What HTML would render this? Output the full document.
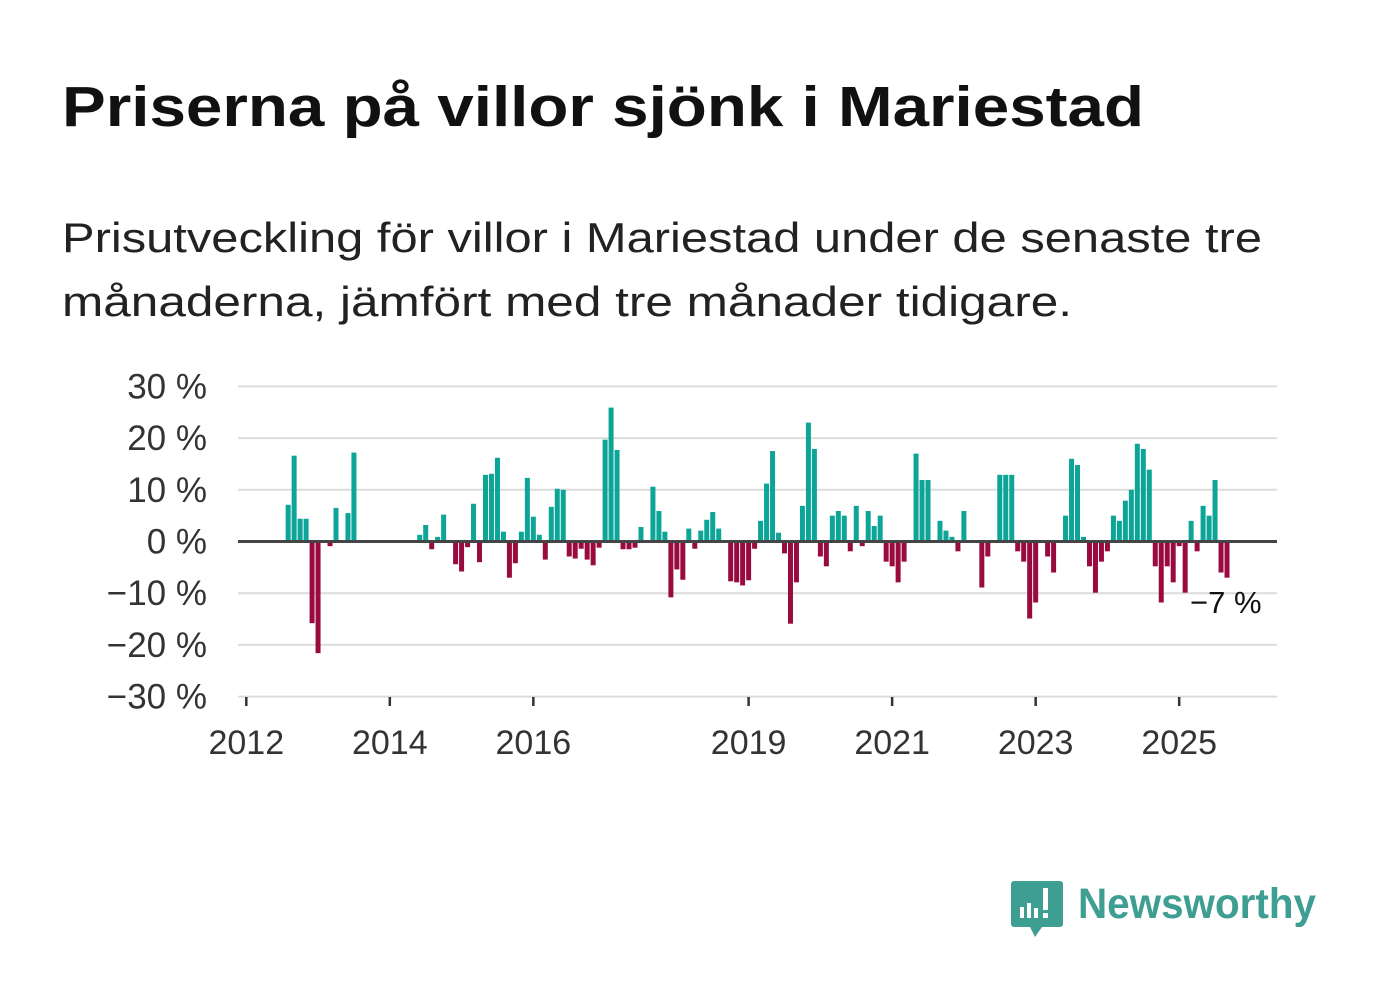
<!DOCTYPE html>
<html><head><meta charset="utf-8"><style>
html,body{margin:0;padding:0;background:#fff;}
svg{display:block;font-family:"Liberation Sans",sans-serif;}
</style></head><body>
<svg id="chart" width="1382" height="999" viewBox="0 0 1382 999">
<text x="62" y="126" font-size="57" font-weight="bold" fill="#111" textLength="1082" lengthAdjust="spacingAndGlyphs">Priserna på villor sjönk i Mariestad</text>
<text x="62" y="252" font-size="42" fill="#222" textLength="1200" lengthAdjust="spacingAndGlyphs">Prisutveckling för villor i Mariestad under de senaste tre</text>
<text x="62" y="316" font-size="42" fill="#222" textLength="1010" lengthAdjust="spacingAndGlyphs">månaderna, jämfört med tre månader tidigare.</text>
<g id="grid"></g>
<g id="yaxis"></g>
<g id="xaxis"></g>
<g id="bars"></g>
<line x1="238" x2="1277" y1="541.5" y2="541.5" stroke="#444" stroke-width="3"/>
<text x="1190" y="613" font-size="31" fill="#111">−7 %</text>
<g>
<path d="M1014 881 h46 a3 3 0 0 1 3 3 v40 a3 3 0 0 1 -3 3 h-18 l-7 10 l-5 -10 h-16 a3 3 0 0 1 -3 -3 v-40 a3 3 0 0 1 3 -3z" fill="#3f9e92"/>
<rect x="1020" y="907" width="4" height="11" fill="#fff"/>
<rect x="1027" y="903" width="4" height="15" fill="#fff"/>
<rect x="1034" y="908" width="4" height="10" fill="#fff"/>
<rect x="1043" y="888" width="5" height="22" fill="#fff"/>
<rect x="1043" y="913" width="5" height="5" fill="#fff"/>
<text x="1078" y="918" font-size="43" font-weight="bold" fill="#3f9e92" textLength="238" lengthAdjust="spacingAndGlyphs">Newsworthy</text>
</g>
</svg>
<script>
const monthIdx = [7,8,9,10,11,12,14,15,17,18,29,30,31,32,33,35,36,37,38,39,40,41,42,43,44,45,46,47,48,49,50,51,52,53,54,55,56,57,58,59,60,61,62,63,64,65,66,68,69,70,71,72,73,74,75,76,77,78,79,81,82,83,84,85,86,87,88,89,90,91,92,93,94,95,96,97,98,99,100,101,102,103,104,105,106,107,108,109,110,112,113,114,116,117,118,119,120,123,124,126,127,128,129,130,131,132,134,135,137,138,139,140,141,142,143,144,145,146,147,148,149,150,151,152,153,154,155,156,157,158,159,160,161,162,163,164];
const values = [7.1,16.6,4.4,4.4,-15.8,-21.6,-0.9,6.5,5.5,17.2,1.3,3.2,-1.5,0.9,5.2,-4.4,-5.8,-1.1,7.3,-4,12.9,13.1,16.2,1.9,-7,-4.2,1.9,12.3,4.8,1.3,-3.5,6.7,10.2,10,-2.9,-3.3,-1.4,-3.5,-4.6,-1.2,19.7,25.9,17.7,-1.5,-1.5,-1.2,2.8,10.6,5.9,1.9,-10.8,-5.4,-7.4,2.5,-1.4,2.1,4.2,5.7,2.5,-7.7,-7.9,-8.5,-7.5,-1.4,4,11.2,17.5,1.7,-2.3,-15.9,-7.9,6.9,23,17.9,-2.9,-4.8,5,5.9,5,-1.9,6.9,-0.9,5.9,3,5,-3.9,-4.8,-7.9,-3.9,17,11.9,11.9,4,2.1,0.9,-1.9,5.9,-8.9,-2.9,12.9,12.9,12.9,-1.9,-3.9,-14.9,-11.8,-2.9,-6,5,16,14.8,0.9,-4.8,-9.9,-3.9,-1.9,5,4,7.9,10,18.9,17.9,13.9,-4.8,-11.8,-4.8,-7.9,-0.9,-9.9,4,-1.9,6.9,5,11.9,-6,-7];
const yTicks = [30,20,10,0,-10,-20,-30];
const yTickLabels = ["30 %","20 %","10 %","0 %","−10 %","−20 %","−30 %"];
const xTickYears = [2012,2014,2016,2019,2021,2023,2025];

const NS="http://www.w3.org/2000/svg";
function yScale(v){return 541.5 - v*5.17;}
function xScale(m){return 246.3 + m*5.98;}
function yearX(y){return xScale((y-2012)*12);}
function mk(tag,attrs,parent){const e=document.createElementNS(NS,tag);for(const k in attrs)e.setAttribute(k,attrs[k]);parent.appendChild(e);return e;}
const grid=document.getElementById('grid'),ya=document.getElementById('yaxis'),xa=document.getElementById('xaxis'),bars=document.getElementById('bars');
yTicks.forEach((t,i)=>{
  if(t!==0){const l=mk('line',{x1:238,x2:1277,y1:yScale(t),y2:yScale(t),stroke:'#dcdcdc','stroke-width':2},grid);
  
  }
  const tx=mk('text',{x:207,y:yScale(t)+12,'font-size':35,fill:'#333','text-anchor':'end'},ya);
  tx.textContent=yTickLabels[i];
  
  
});
xTickYears.forEach(yr=>{
  const x=yearX(yr);
  const tk=mk('line',{x1:x,x2:x,y1:697,y2:706,stroke:'#333','stroke-width':2.5},xa);
  
  
  const tx=mk('text',{x:x,y:754,'font-size':34,fill:'#333','text-anchor':'middle'},xa);
  tx.textContent=yr;
  
  
});
monthIdx.forEach((m,i)=>{
  const v=values[i];const x=xScale(m);
  const y0=yScale(0),y1=yScale(v);
  const r=mk('rect',{x:x-2.5,y:Math.min(y0,y1),width:5,height:Math.abs(y1-y0),fill:v>=0?'#0ca597':'#990a3f'},bars);
  
  
});
</script>
</body></html>
